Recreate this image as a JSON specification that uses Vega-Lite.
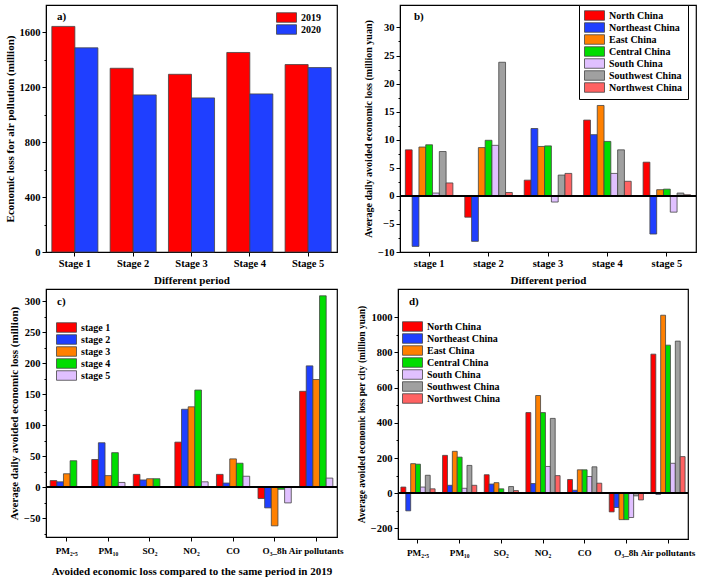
{
  "$schema": "https://vega.github.io/schema/vega-lite/v6.json",
  "padding": {"left": 3, "top": 3, "right": 0, "bottom": 0},
  "background": "white",
  "resolve": {"scale": {"color": "independent", "xOffset": "independent", "x": "independent", "y": "independent"}, "legend": {"color": "independent"}},
  "config": {
    "view": {"stroke": "black", "strokeWidth": 1.2},
    "axis": {
      "labelFont": "Liberation Serif", "labelFontWeight": "bold", "labelFontSize": 10.5, "labelColor": "black",
      "titleFont": "Liberation Serif", "titleFontWeight": "bold", "titleFontSize": 11, "titleColor": "black",
      "domainColor": "black", "tickColor": "black", "grid": false, "tickSize": 4, "labelPadding": 2, "labelOverlap": false
    },
    "legend": {
      "labelFont": "Liberation Serif", "labelFontWeight": "bold", "labelFontSize": 10, "labelColor": "black",
      "symbolType": "M-1,-0.95H3V0.95H-1Z", "symbolSize": 100, "symbolStrokeColor": "#444", "symbolStrokeWidth": 0.8,
      "symbolOpacity": 1, "rowPadding": -1.7, "labelOffset": 14, "padding": 0, "title": null, "orient": "none"
    },
    "title": {"font": "Liberation Serif", "fontSize": 11, "fontWeight": "bold", "anchor": "start", "color": "black", "frame": "group"}
  },
  "datasets": {
    "a": [
      {"stage": "Stage 1", "year": "2019", "value": 1644},
      {"stage": "Stage 1", "year": "2020", "value": 1488},
      {"stage": "Stage 2", "year": "2019", "value": 1339},
      {"stage": "Stage 2", "year": "2020", "value": 1145},
      {"stage": "Stage 3", "year": "2019", "value": 1295},
      {"stage": "Stage 3", "year": "2020", "value": 1123},
      {"stage": "Stage 4", "year": "2019", "value": 1454},
      {"stage": "Stage 4", "year": "2020", "value": 1152},
      {"stage": "Stage 5", "year": "2019", "value": 1366},
      {"stage": "Stage 5", "year": "2020", "value": 1344}
    ],
    "b": [
      {"stage": "stage 1", "region": "North China", "value": 8.2},
      {"stage": "stage 1", "region": "Northeast China", "value": -9.0},
      {"stage": "stage 1", "region": "East China", "value": 8.7},
      {"stage": "stage 1", "region": "Central China", "value": 9.1},
      {"stage": "stage 1", "region": "South China", "value": 0.5},
      {"stage": "stage 1", "region": "Southwest China", "value": 7.9},
      {"stage": "stage 1", "region": "Northwest China", "value": 2.3},
      {"stage": "stage 2", "region": "North China", "value": -3.8},
      {"stage": "stage 2", "region": "Northeast China", "value": -8.1},
      {"stage": "stage 2", "region": "East China", "value": 8.6},
      {"stage": "stage 2", "region": "Central China", "value": 9.9},
      {"stage": "stage 2", "region": "South China", "value": 9.0},
      {"stage": "stage 2", "region": "Southwest China", "value": 23.8},
      {"stage": "stage 2", "region": "Northwest China", "value": 0.6},
      {"stage": "stage 3", "region": "North China", "value": 2.8},
      {"stage": "stage 3", "region": "Northeast China", "value": 12.0},
      {"stage": "stage 3", "region": "East China", "value": 8.8},
      {"stage": "stage 3", "region": "Central China", "value": 8.9},
      {"stage": "stage 3", "region": "South China", "value": -1.1},
      {"stage": "stage 3", "region": "Southwest China", "value": 3.7},
      {"stage": "stage 3", "region": "Northwest China", "value": 4.0},
      {"stage": "stage 4", "region": "North China", "value": 13.5},
      {"stage": "stage 4", "region": "Northeast China", "value": 10.9},
      {"stage": "stage 4", "region": "East China", "value": 16.1},
      {"stage": "stage 4", "region": "Central China", "value": 9.7},
      {"stage": "stage 4", "region": "South China", "value": 4.0},
      {"stage": "stage 4", "region": "Southwest China", "value": 8.2},
      {"stage": "stage 4", "region": "Northwest China", "value": 2.6},
      {"stage": "stage 5", "region": "North China", "value": 6.0},
      {"stage": "stage 5", "region": "Northeast China", "value": -6.8},
      {"stage": "stage 5", "region": "East China", "value": 1.1},
      {"stage": "stage 5", "region": "Central China", "value": 1.2},
      {"stage": "stage 5", "region": "South China", "value": -2.9},
      {"stage": "stage 5", "region": "Southwest China", "value": 0.5},
      {"stage": "stage 5", "region": "Northwest China", "value": 0.2}
    ],
    "c": [
      {"pollutant": "PM₂.₅", "stage": "stage 1", "value": 11},
      {"pollutant": "PM₂.₅", "stage": "stage 2", "value": 9},
      {"pollutant": "PM₂.₅", "stage": "stage 3", "value": 22},
      {"pollutant": "PM₂.₅", "stage": "stage 4", "value": 43},
      {"pollutant": "PM₂.₅", "stage": "stage 5", "value": 1},
      {"pollutant": "PM₁₀", "stage": "stage 1", "value": 45},
      {"pollutant": "PM₁₀", "stage": "stage 2", "value": 72},
      {"pollutant": "PM₁₀", "stage": "stage 3", "value": 19},
      {"pollutant": "PM₁₀", "stage": "stage 4", "value": 56},
      {"pollutant": "PM₁₀", "stage": "stage 5", "value": 8},
      {"pollutant": "SO₂", "stage": "stage 1", "value": 21},
      {"pollutant": "SO₂", "stage": "stage 2", "value": 12},
      {"pollutant": "SO₂", "stage": "stage 3", "value": 14},
      {"pollutant": "SO₂", "stage": "stage 4", "value": 14},
      {"pollutant": "SO₂", "stage": "stage 5", "value": 0},
      {"pollutant": "NO₂", "stage": "stage 1", "value": 73},
      {"pollutant": "NO₂", "stage": "stage 2", "value": 126},
      {"pollutant": "NO₂", "stage": "stage 3", "value": 130},
      {"pollutant": "NO₂", "stage": "stage 4", "value": 157},
      {"pollutant": "NO₂", "stage": "stage 5", "value": 9},
      {"pollutant": "CO", "stage": "stage 1", "value": 21},
      {"pollutant": "CO", "stage": "stage 2", "value": 7},
      {"pollutant": "CO", "stage": "stage 3", "value": 46},
      {"pollutant": "CO", "stage": "stage 4", "value": 39},
      {"pollutant": "CO", "stage": "stage 5", "value": 18},
      {"pollutant": "O₃_8h", "stage": "stage 1", "value": -18},
      {"pollutant": "O₃_8h", "stage": "stage 2", "value": -33},
      {"pollutant": "O₃_8h", "stage": "stage 3", "value": -62},
      {"pollutant": "O₃_8h", "stage": "stage 4", "value": -3},
      {"pollutant": "O₃_8h", "stage": "stage 5", "value": -25},
      {"pollutant": "Air pollutants", "stage": "stage 1", "value": 155},
      {"pollutant": "Air pollutants", "stage": "stage 2", "value": 196},
      {"pollutant": "Air pollutants", "stage": "stage 3", "value": 174},
      {"pollutant": "Air pollutants", "stage": "stage 4", "value": 309},
      {"pollutant": "Air pollutants", "stage": "stage 5", "value": 15}
    ],
    "d": [
      {"pollutant": "PM₂.₅", "region": "North China", "value": 35},
      {"pollutant": "PM₂.₅", "region": "Northeast China", "value": -100},
      {"pollutant": "PM₂.₅", "region": "East China", "value": 168},
      {"pollutant": "PM₂.₅", "region": "Central China", "value": 165},
      {"pollutant": "PM₂.₅", "region": "South China", "value": 35},
      {"pollutant": "PM₂.₅", "region": "Southwest China", "value": 102},
      {"pollutant": "PM₂.₅", "region": "Northwest China", "value": 25},
      {"pollutant": "PM₁₀", "region": "North China", "value": 215},
      {"pollutant": "PM₁₀", "region": "Northeast China", "value": 45},
      {"pollutant": "PM₁₀", "region": "East China", "value": 238},
      {"pollutant": "PM₁₀", "region": "Central China", "value": 205},
      {"pollutant": "PM₁₀", "region": "South China", "value": 28},
      {"pollutant": "PM₁₀", "region": "Southwest China", "value": 158},
      {"pollutant": "PM₁₀", "region": "Northwest China", "value": 45},
      {"pollutant": "SO₂", "region": "North China", "value": 105},
      {"pollutant": "SO₂", "region": "Northeast China", "value": 52},
      {"pollutant": "SO₂", "region": "East China", "value": 60},
      {"pollutant": "SO₂", "region": "Central China", "value": 25},
      {"pollutant": "SO₂", "region": "South China", "value": 0},
      {"pollutant": "SO₂", "region": "Southwest China", "value": 38},
      {"pollutant": "SO₂", "region": "Northwest China", "value": 15},
      {"pollutant": "NO₂", "region": "North China", "value": 458},
      {"pollutant": "NO₂", "region": "Northeast China", "value": 55},
      {"pollutant": "NO₂", "region": "East China", "value": 555},
      {"pollutant": "NO₂", "region": "Central China", "value": 458},
      {"pollutant": "NO₂", "region": "South China", "value": 152},
      {"pollutant": "NO₂", "region": "Southwest China", "value": 425},
      {"pollutant": "NO₂", "region": "Northwest China", "value": 100},
      {"pollutant": "CO", "region": "North China", "value": 78},
      {"pollutant": "CO", "region": "Northeast China", "value": 17},
      {"pollutant": "CO", "region": "East China", "value": 133},
      {"pollutant": "CO", "region": "Central China", "value": 133},
      {"pollutant": "CO", "region": "South China", "value": 95},
      {"pollutant": "CO", "region": "Southwest China", "value": 150},
      {"pollutant": "CO", "region": "Northwest China", "value": 57},
      {"pollutant": "O₃_8h", "region": "North China", "value": -106},
      {"pollutant": "O₃_8h", "region": "Northeast China", "value": -81},
      {"pollutant": "O₃_8h", "region": "East China", "value": -150},
      {"pollutant": "O₃_8h", "region": "Central China", "value": -150},
      {"pollutant": "O₃_8h", "region": "South China", "value": -138},
      {"pollutant": "O₃_8h", "region": "Southwest China", "value": -15},
      {"pollutant": "O₃_8h", "region": "Northwest China", "value": -38},
      {"pollutant": "Air pollutants", "region": "North China", "value": 790},
      {"pollutant": "Air pollutants", "region": "Northeast China", "value": -6},
      {"pollutant": "Air pollutants", "region": "East China", "value": 1011},
      {"pollutant": "Air pollutants", "region": "Central China", "value": 841},
      {"pollutant": "Air pollutants", "region": "South China", "value": 170},
      {"pollutant": "Air pollutants", "region": "Southwest China", "value": 864},
      {"pollutant": "Air pollutants", "region": "Northwest China", "value": 208}
    ]
  },
  "vconcat": [
    {
      "resolve": {"scale": {"color": "independent", "xOffset": "independent", "x": "independent", "y": "independent"}, "legend": {"color": "independent"}},
      "hconcat": [
        {
          "width": 291, "height": 247,
          "data": {"name": "a"},
          "title": {"text": "a)", "offset": -17, "dx": 11},
          "mark": {"type": "bar", "stroke": "#444", "strokeWidth": 0.8},
          "encoding": {
            "x": {"field": "stage", "type": "nominal", "sort": null,
                  "scale": {"paddingInner": 0.21, "paddingOuter": 0.1},
                  "axis": {"title": "Different period", "labelAngle": 0, "titlePadding": 6}},
            "xOffset": {"field": "year", "type": "nominal", "sort": null, "scale": {"paddingInner": 0, "paddingOuter": 0}},
            "y": {"field": "value", "type": "quantitative",
                  "scale": {"domain": [0, 1800], "nice": false},
                  "axis": {"values": [0, 200, 400, 600, 800, 1000, 1200, 1400, 1600], "tickCount": 40, "format": "d",
                           "labelExpr": "datum.value % 400 === 0 ? datum.label : ''",
                           "tickSize": {"condition": {"test": "datum.value % 400 === 0", "value": 4}, "value": 2},
                           "title": "Economic loss for air pollution (million)", "titlePadding": 4}},
            "color": {"field": "year", "type": "nominal", "sort": null,
                      "scale": {"range": ["#FF0000", "#1F3FFF"]},
                      "legend": {"legendX": 230, "legendY": 7}}
          }
        },
        {
          "width": 296, "height": 247,
          "data": {"name": "b"},
          "title": {"text": "b)", "offset": -17, "dx": 14},
          "layer": [
            {
              "mark": {"type": "bar", "stroke": "#444", "strokeWidth": 0.8},
              "encoding": {
                "x": {"field": "stage", "type": "nominal", "sort": null,
                      "scale": {"paddingInner": 0.2, "paddingOuter": 0.09},
                      "axis": {"title": "Different period", "labelAngle": 0, "titlePadding": 6}},
                "xOffset": {"field": "region", "type": "nominal", "sort": null, "scale": {"paddingInner": 0, "paddingOuter": 0}},
                "y": {"field": "value", "type": "quantitative",
                      "scale": {"domain": [-10, 34], "nice": false},
                      "axis": {"values": [-10, -7.5, -5, -2.5, 0, 2.5, 5, 7.5, 10, 12.5, 15, 17.5, 20, 22.5, 25, 27.5, 30], "tickCount": 40,
                               "labelExpr": "datum.value % 5 === 0 ? datum.label : ''",
                               "tickSize": {"condition": {"test": "datum.value % 5 === 0", "value": 4}, "value": 2},
                               "title": "Average daily avoided economic loss (million yuan)", "titleFontSize": 10, "titlePadding": 4}},
                "color": {"field": "region", "type": "nominal", "sort": null,
                          "scale": {"range": ["#FF0000", "#1F3FFF", "#FF8000", "#00DD00", "#E0C0FF", "#A0A0A0", "#FF6262"]},
                          "legend": {"legendX": 179, "legendY": 0, "padding": 5, "strokeColor": "black", "fillColor": "white"}}
              }
            },
            {
              "mark": {"type": "rule", "color": "black", "strokeWidth": 1.2},
              "encoding": {"y": {"datum": 0}}
            }
          ]
        }
      ],
      "spacing": 24
    },
    {
      "resolve": {"scale": {"color": "independent", "xOffset": "independent", "x": "independent", "y": "independent"}, "legend": {"color": "independent"}},
      "hconcat": [
        {
          "width": 291, "height": 248,
          "data": {"name": "c"},
          "title": {"text": "c)", "offset": -18, "dx": 11},
          "layer": [
            {
              "mark": {"type": "bar", "stroke": "#444", "strokeWidth": 0.8},
              "encoding": {
                "x": {"field": "pollutant", "type": "nominal", "sort": null,
                      "scale": {"paddingInner": 0.2, "paddingOuter": 0.1},
                      "axis": {"title": "Avoided economic loss compared to the same period in 2019", "labelAngle": 0, "labelFontSize": 9.2, "labelPadding": 5, "titlePadding": 10}},
                "xOffset": {"field": "stage", "type": "nominal", "sort": null, "scale": {"paddingInner": 0, "paddingOuter": 0}},
                "y": {"field": "value", "type": "quantitative",
                      "scale": {"domain": [-80, 320], "nice": false},
                      "axis": {"values": [-75, -50, -25, 0, 25, 50, 75, 100, 125, 150, 175, 200, 225, 250, 275, 300], "tickCount": 40,
                               "labelExpr": "datum.value % 50 === 0 ? datum.label : ''",
                               "tickSize": {"condition": {"test": "datum.value % 50 === 0", "value": 4}, "value": 2},
                               "title": "Average daily avoided economic loss (million)", "titlePadding": 4}},
                "color": {"field": "stage", "type": "nominal", "sort": null,
                          "scale": {"range": ["#FF0000", "#1F3FFF", "#FF8000", "#00DD00", "#E0C0FF"]},
                          "legend": {"legendX": 10, "legendY": 33}}
              }
            },
            {
              "mark": {"type": "rule", "color": "black", "strokeWidth": 1.2},
              "encoding": {"y": {"datum": 0}}
            }
          ]
        },
        {
          "width": 290, "height": 250,
          "data": {"name": "d"},
          "title": {"text": "d)", "offset": -18, "dx": 11},
          "layer": [
            {
              "mark": {"type": "bar", "stroke": "#444", "strokeWidth": 0.8},
              "encoding": {
                "x": {"field": "pollutant", "type": "nominal", "sort": null,
                      "scale": {"paddingInner": 0.18, "paddingOuter": 0.07},
                      "axis": {"title": null, "labelAngle": 0, "labelFontSize": 9.2, "labelPadding": 5}},
                "xOffset": {"field": "region", "type": "nominal", "sort": null, "scale": {"paddingInner": 0, "paddingOuter": 0}},
                "y": {"field": "value", "type": "quantitative",
                      "scale": {"domain": [-260, 1160], "nice": false},
                      "axis": {"values": [-200, -100, 0, 100, 200, 300, 400, 500, 600, 700, 800, 900, 1000], "tickCount": 40, "format": "d",
                               "labelExpr": "datum.value % 200 === 0 ? datum.label : ''",
                               "tickSize": {"condition": {"test": "datum.value % 200 === 0", "value": 4}, "value": 2},
                               "title": "Average  avoided economic loss per city (million yuan)", "titleFontSize": 9.5, "titlePadding": 4}},
                "color": {"field": "region", "type": "nominal", "sort": null,
                          "scale": {"range": ["#FF0000", "#1F3FFF", "#FF8000", "#00DD00", "#E0C0FF", "#A0A0A0", "#FF6262"]},
                          "legend": {"legendX": 4, "legendY": 32}}
              }
            },
            {
              "mark": {"type": "rule", "color": "black", "strokeWidth": 1.2},
              "encoding": {"y": {"datum": 0}}
            }
          ]
        }
      ],
      "spacing": 11
    }
  ],
  "spacing": 1
}
